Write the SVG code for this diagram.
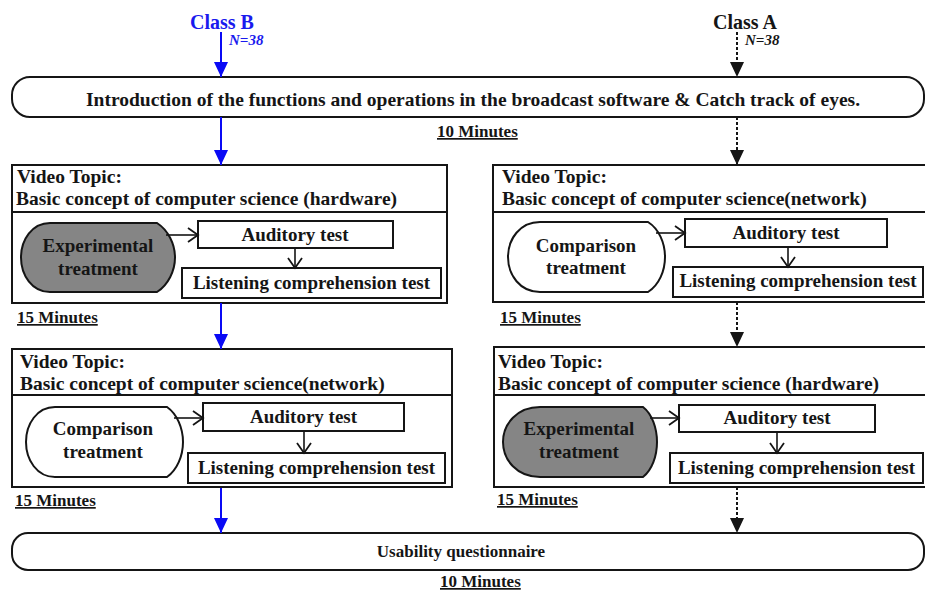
<svg xmlns="http://www.w3.org/2000/svg" width="925" height="591" viewBox="0 0 925 591">
<style>
text{font-family:"Liberation Serif","Times New Roman",serif;font-weight:bold;fill:#151515}
.t19{font-size:19px}
.h{font-size:19.5px}
.c{text-anchor:middle}
.min{font-size:17px;text-decoration:underline}
.box{fill:#fff;stroke:#151515;stroke-width:2}
.sub{fill:#fff;stroke:#151515;stroke-width:2}
.gray{fill:#858585;stroke:#151515;stroke-width:2}
.white{fill:#fff;stroke:#151515;stroke-width:2}
.blue{stroke:#0a0af5;stroke-width:2;fill:none}
.dash{stroke:#151515;stroke-width:2;stroke-dasharray:3 2;fill:none}
.inner{stroke:#151515;stroke-width:1.6;fill:none}
</style>
<defs>
<marker id="ab" markerUnits="userSpaceOnUse" markerWidth="16" markerHeight="14" refX="15" refY="7" orient="auto" viewBox="0 0 16 14">
<path d="M0,0 L15,7 L0,14 Z" fill="#0a0af5"/>
</marker>
<marker id="ak" markerUnits="userSpaceOnUse" markerWidth="16" markerHeight="14" refX="15" refY="7" orient="auto" viewBox="0 0 16 14">
<path d="M0,0 L15,7 L0,14 Z" fill="#151515"/>
</marker>
<marker id="ov" markerUnits="userSpaceOnUse" markerWidth="14" markerHeight="16" refX="11" refY="8" orient="auto" viewBox="0 0 14 16">
<path d="M1,1 L11,8 L1,15" fill="none" stroke="#151515" stroke-width="1.8"/>
</marker>
</defs>

<g id="classB">
<text x="222" y="29" class="c" style="font-size:20px;fill:#1a1aee">Class B</text>
<text x="229" y="45" style="font-size:15px;font-style:italic;fill:#1a1aee">N=38</text>
</g>
<g id="classA">
<text x="745" y="29" class="c" style="font-size:20px">Class A</text>
<text x="745" y="45" style="font-size:15px;font-style:italic">N=38</text>
</g>

<g id="intro">
<rect x="12" y="77" width="912" height="40" rx="18" ry="18" class="box"/>
<text x="473" y="106" class="c" style="font-size:19.5px">Introduction of the functions and operations in the broadcast software &amp; Catch track of eyes.</text>
<text x="437" y="137" class="min">10 Minutes</text>
</g>

<g id="boxB1">
<rect x="12" y="165" width="435" height="138" class="box"/>
<line x1="12" y1="212" x2="447" y2="212" stroke="#151515" stroke-width="2"/>
<text x="17" y="183" class="h">Video Topic:</text>
<text x="16" y="205" class="h">Basic concept of computer science (hardware)</text>
<path d="M50,223 L157,223 C168,230 175,244 175,257.5 C175,271 168,285 157,292 L50,292 C32,292 21,275 21,257.5 C21,240 32,223 50,223 Z" class="gray"/>
<text x="98" y="252" class="t19 c">Experimental</text>
<text x="98" y="275" class="t19 c">treatment</text>
<rect x="198" y="221" width="195" height="27" class="sub"/>
<text x="295" y="241" class="t19 c">Auditory test</text>
<rect x="182" y="268" width="259" height="30" class="sub"/>
<text x="311.5" y="289" class="t19 c">Listening comprehension test</text>
<text x="17" y="323" class="min">15 Minutes</text>
</g>

<g id="boxA1">
<rect x="493" y="165" width="440" height="137" class="box"/>
<line x1="493" y1="212" x2="930" y2="212" stroke="#151515" stroke-width="2"/>
<text x="502" y="183" class="h">Video Topic:</text>
<text x="502" y="205" class="h">Basic concept of computer science(network)</text>
<path d="M540,222 L648,222 C659,229 665,243 665,257 C665,271 659,285 648,292 L540,292 C520,292 508,275 508,257 C508,239 520,222 540,222 Z" class="white"/>
<text x="586" y="252" class="t19 c">Comparison</text>
<text x="586" y="274" class="t19 c">treatment</text>
<rect x="685" y="219" width="202" height="28" class="sub"/>
<text x="786" y="239" class="t19 c">Auditory test</text>
<rect x="673" y="267" width="250" height="30" class="sub"/>
<text x="798" y="287" class="t19 c">Listening comprehension test</text>
<text x="500" y="323" class="min">15 Minutes</text>
</g>

<g id="boxB2">
<rect x="12" y="349" width="440" height="138" class="box"/>
<line x1="12" y1="395" x2="452" y2="395" stroke="#151515" stroke-width="2"/>
<text x="20" y="368" class="h">Video Topic:</text>
<text x="20" y="390" class="h">Basic concept of computer science(network)</text>
<path d="M55,407 L167,407 C177,414 183,428 183,442 C183,456 177,470 167,477 L55,477 C37,477 26,460 26,442 C26,424 37,407 55,407 Z" class="white"/>
<text x="103" y="435" class="t19 c">Comparison</text>
<text x="103" y="458" class="t19 c">treatment</text>
<rect x="203" y="403" width="201" height="28" class="sub"/>
<text x="303.5" y="423" class="t19 c">Auditory test</text>
<rect x="188" y="453" width="257" height="30" class="sub"/>
<text x="316.5" y="474" class="t19 c">Listening comprehension test</text>
<text x="15" y="506" class="min">15 Minutes</text>
</g>

<g id="boxA2">
<rect x="494" y="347" width="440" height="140" class="box"/>
<line x1="494" y1="395" x2="930" y2="395" stroke="#151515" stroke-width="2"/>
<text x="498" y="368" class="h">Video Topic:</text>
<text x="498" y="390" class="h">Basic concept of computer science (hardware)</text>
<path d="M540,407 L643,407 C652,414 657,428 657,442 C657,456 652,470 643,477 L540,477 C517,477 503,460 503,442 C503,424 517,407 540,407 Z" class="gray"/>
<text x="579" y="435" class="t19 c">Experimental</text>
<text x="579" y="458" class="t19 c">treatment</text>
<rect x="679" y="405" width="196" height="27" class="sub"/>
<text x="777" y="424" class="t19 c">Auditory test</text>
<rect x="670" y="453" width="253" height="30" class="sub"/>
<text x="796.5" y="474" class="t19 c">Listening comprehension test</text>
<text x="497" y="505" class="min">15 Minutes</text>
</g>

<g id="survey">
<rect x="12" y="533" width="912" height="37" rx="16" ry="16" class="box"/>
<text x="461" y="557" class="c" style="font-size:17px">Usability questionnaire</text>
<text x="440" y="587" class="min">10 Minutes</text>
</g>

<g id="connectors">
<line x1="221" y1="32" x2="221" y2="77" class="blue" marker-end="url(#ab)"/>
<line x1="221" y1="117" x2="221" y2="165" class="blue" marker-end="url(#ab)"/>
<line x1="221" y1="303" x2="221" y2="349" class="blue" marker-end="url(#ab)"/>
<line x1="221" y1="488" x2="221" y2="533" class="blue" marker-end="url(#ab)"/>
<line x1="737" y1="32" x2="737" y2="77" class="dash" marker-end="url(#ak)"/>
<line x1="737" y1="117" x2="737" y2="165" class="dash" marker-end="url(#ak)"/>
<line x1="737" y1="302" x2="737" y2="347" class="dash" marker-end="url(#ak)"/>
<line x1="737" y1="487" x2="737" y2="533" class="dash" marker-end="url(#ak)"/>
<line x1="166" y1="235" x2="198" y2="235" class="inner" marker-end="url(#ov)"/>
<line x1="295" y1="248" x2="295" y2="268" class="inner" marker-end="url(#ov)"/>
<line x1="656" y1="233" x2="685" y2="233" class="inner" marker-end="url(#ov)"/>
<line x1="788" y1="247" x2="788" y2="267" class="inner" marker-end="url(#ov)"/>
<line x1="174" y1="418" x2="203" y2="418" class="inner" marker-end="url(#ov)"/>
<line x1="304" y1="431" x2="304" y2="453" class="inner" marker-end="url(#ov)"/>
<line x1="650" y1="418" x2="679" y2="418" class="inner" marker-end="url(#ov)"/>
<line x1="777" y1="432" x2="777" y2="453" class="inner" marker-end="url(#ov)"/>
</g>
</svg>
